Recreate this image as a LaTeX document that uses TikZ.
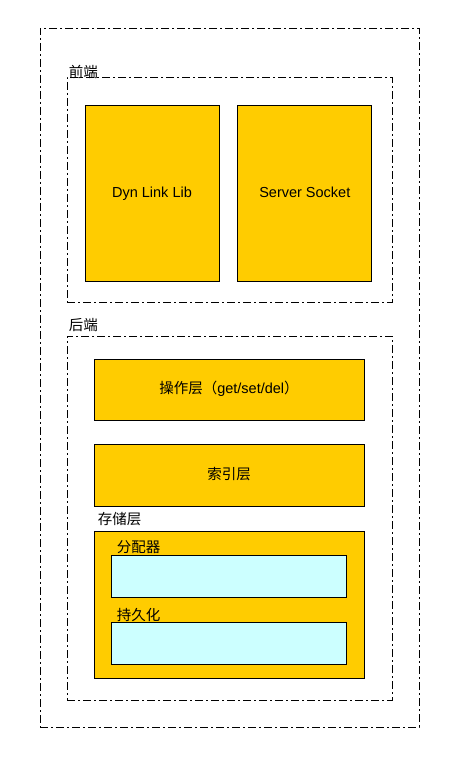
\documentclass[tikz,border=0pt]{standalone}
\usepackage{fontspec}
\setmainfont{Liberation Sans}
\newfontfamily\cjk{Noto Sans CJK SC}
\usepackage{xcolor}
\usepackage{tikz}
\usetikzlibrary{positioning}

\definecolor{gold}{HTML}{FFCC00}
\definecolor{aqua}{HTML}{CCFFFF}

\begin{document}
\begin{tikzpicture}[x=1pt,y=-1pt,
  region/.style={draw,line width=.8pt,dash pattern=on 8pt off 3pt on 2pt off 3pt,inner sep=0pt},
  block/.style={draw,line width=.8pt,fill=gold,inner sep=0pt,text height=11pt,text depth=3pt,font=\fontsize{14.5}{17}\selectfont},
  inner/.style={draw,line width=.8pt,fill=aqua,inner sep=0pt},
  tag/.style={inner sep=0pt,anchor=base west,font=\fontsize{14.5}{17}\selectfont\cjk}]
\useasboundingbox (0,0) rectangle (460,759);
  % outer frame and the two parts
  \node[region,minimum width=379pt,minimum height=699pt] (all) at (229.5,377.5) {};
  \node[region,minimum width=325pt,minimum height=225pt] (front) at (229.5,189.5) {};
  \node[region,minimum width=325pt,minimum height=364pt] (back) at (229.5,518) {};
  \node[tag] (frontlabel) at ([xshift=2pt,yshift=-1pt]front.north west) {前端};
  \node[tag] (backlabel) at ([xshift=2pt,yshift=5pt]back.north west) {后端};
  % front
  \node[block,minimum width=134pt,minimum height=176pt] (dyn) at (152,193) {Dyn Link Lib};
  \node[block,minimum width=134pt,minimum height=176pt,right=18pt of dyn] (sock) {Server Socket};
  % back
  \node[block,minimum width=270pt,minimum height=61pt] (op) at (229,389.5) {{\cjk 操作层（}get/set/del{\cjk ）}};
  \node[block,minimum width=270pt,minimum height=62pt,below=24pt of op] (idx) {\cjk 索引层};
  \node[block,minimum width=270pt,minimum height=147pt,below=24pt of idx] (store) {};
  \node[tag] (storelabel) at ([xshift=4pt,yshift=7pt]store.north west) {存储层};
  \node[inner,minimum width=235pt,minimum height=42pt] (alloc) at (228.5,576) {};
  \node[inner,minimum width=235pt,minimum height=42pt,below=25pt of alloc] (persist) {};
  \node[tag] (alloclabel) at ([xshift=6pt,yshift=2pt]alloc.north west) {分配器};
  \node[tag] (persistlabel) at ([xshift=6pt,yshift=2pt]persist.north west) {持久化};
\end{tikzpicture}
\end{document}
